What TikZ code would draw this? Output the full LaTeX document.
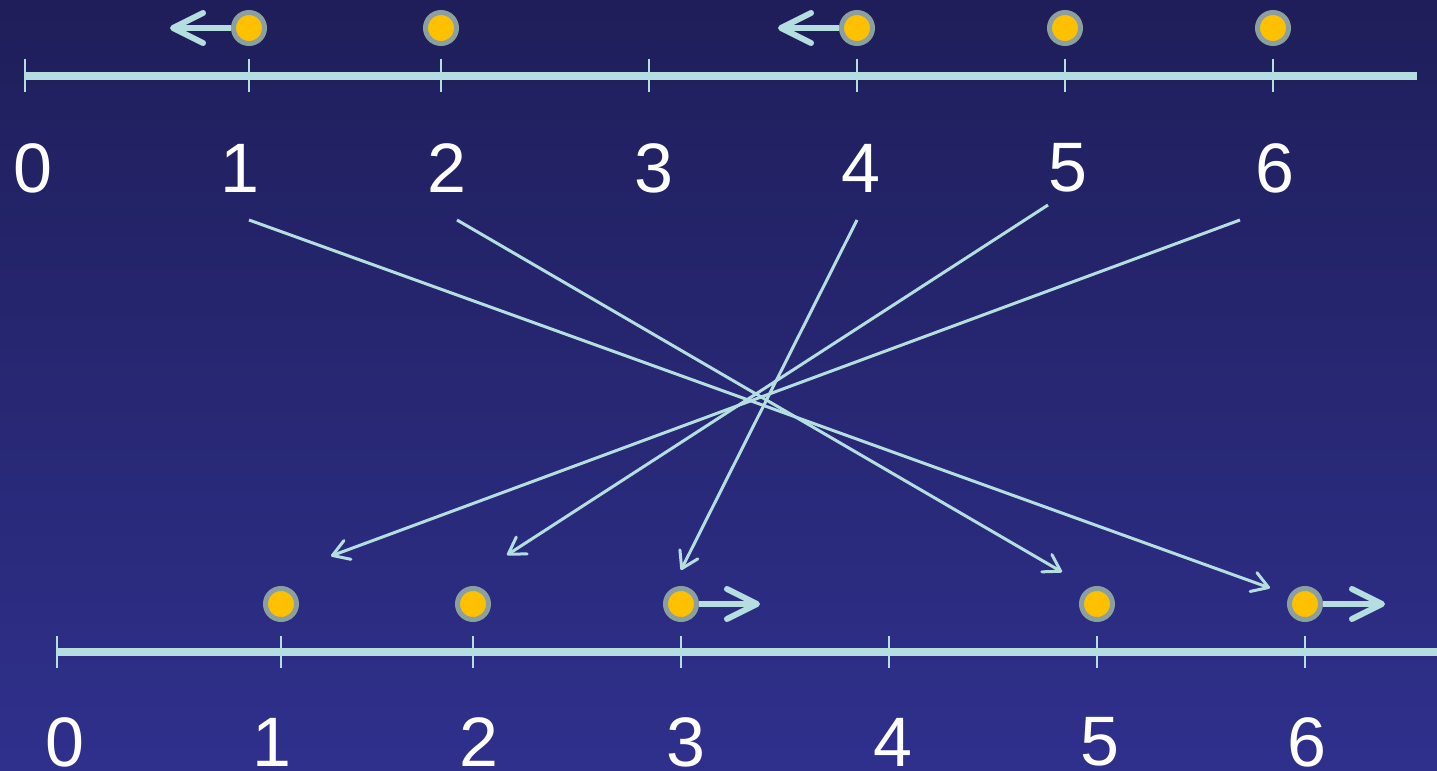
\documentclass[tikz,border=0pt]{standalone}
\usepackage{fontspec}
\setmainfont{Liberation Sans}
\usepackage{xcolor}
\usetikzlibrary{arrows.meta}
\definecolor{bgtop}{RGB}{31,30,90}
\definecolor{bgbottom}{RGB}{47,48,140}
\definecolor{axisline}{RGB}{181,222,225}
\definecolor{dotfill}{RGB}{255,192,0}
\definecolor{dotring}{RGB}{138,160,160}

\begin{document}
\begin{tikzpicture}[x=0.5pt, y=-0.5pt,
  axis/.style={axisline, line width=4pt},
  tick/.style={axisline, line width=1pt},
  numlabel/.style={text=white, font=\fontsize{35}{35}\selectfont, inner sep=0pt},
  dot/.style={circle, fill=dotfill, draw=dotring, line width=2.5pt,
    minimum size=15.5pt, inner sep=0pt},
  move/.style={axisline, line width=3pt,
    -{Straight Barb[length=15pt, width=15pt, round]}},
  map/.style={axisline, line width=1.5pt,
    -{Straight Barb[length=8pt, width=10pt, round]}}]
\shade[top color=bgtop, bottom color=bgbottom] (0,0) rectangle (1437,771);
\useasboundingbox (0,0) rectangle (1437,771);

% upper axis
\draw[axis] (25,76) coordinate (a0) -- (1417,76) coordinate (a7);
\foreach \x [count=\i from 0] in {25,249,441,649,857,1065,1273} {
  \draw[tick] (\x,59) -- (\x,92);
}
\foreach \i in {0,...,6} {
  \node[numlabel] (ta\i) at (33+207*\i,168) {\i};
}

% lower axis
\draw[axis] (57,652) coordinate (b0) -- (1437,652) coordinate (b7);
\foreach \x [count=\i from 0] in {57,281,473,681,889,1097,1305} {
  \draw[tick] (\x,636) -- (\x,668);
}
\foreach \i in {0,...,6} {
  \node[numlabel] (tb\i) at (65+207*\i,742) {\i};
}

% points before
\node[dot] (da1) at (249,28) {};
\node[dot] (da2) at (441,28) {};
\node[dot] (da4) at (857,28) {};
\node[dot] (da5) at (1065,28) {};
\node[dot] (da6) at (1273,28) {};
\coordinate (ua1) at (170,28);
\coordinate (ua4) at (778,28);
\draw[move] (da1) -- (ua1);
\draw[move] (da4) -- (ua4);

% points after
\node[dot] (db1) at (281,604) {};
\node[dot] (db2) at (473,604) {};
\node[dot] (db3) at (681,604) {};
\node[dot] (db5) at (1097,604) {};
\node[dot] (db6) at (1305,604) {};
\coordinate (ub3) at (760,604);
\coordinate (ub6) at (1385,604);
\draw[move] (db3) -- (ub3);
\draw[move] (db6) -- (ub6);

% mapping
\coordinate (s1) at (249,220);
\coordinate (s2) at (457,220);
\coordinate (s4) at (857,220);
\coordinate (s5) at (1048,205);
\coordinate (s6) at (1240,220);
\coordinate (e6) at (1270,588);
\coordinate (e5) at (1062,572);
\coordinate (e3) at (681,570);
\coordinate (e2) at (507,555);
\coordinate (e1) at (331,556);
\draw[map] (s1) -- (e6);
\draw[map] (s2) -- (e5);
\draw[map] (s4) -- (e3);
\draw[map] (s5) -- (e2);
\draw[map] (s6) -- (e1);
\end{tikzpicture}
\end{document}
